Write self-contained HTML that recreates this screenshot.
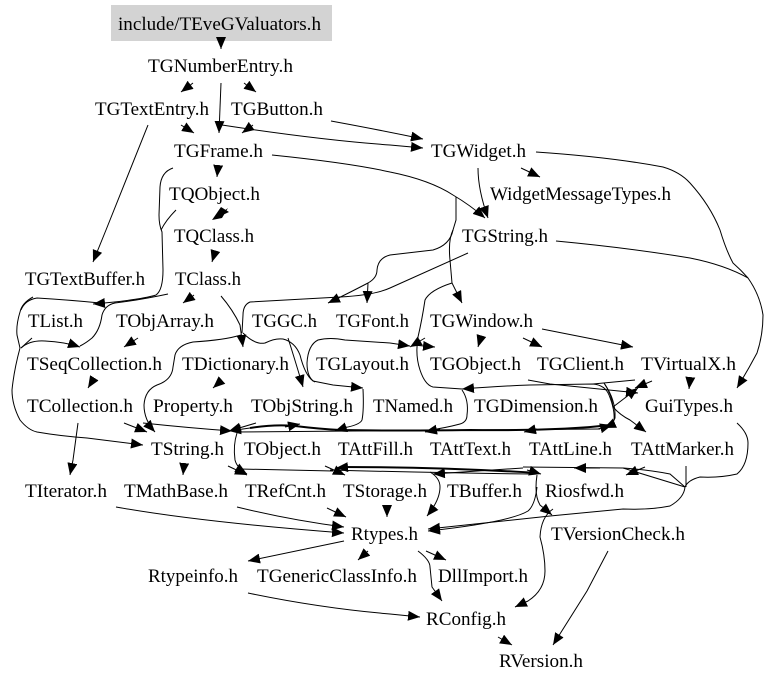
<!DOCTYPE html>
<html><head><meta charset="utf-8"><style>
html,body{margin:0;padding:0;background:#fff}
svg{display:block}
text{font-family:"Liberation Serif",serif;font-size:18.67px;fill:#000}
.e path{fill:none;stroke:#000;stroke-width:1}
.h path{marker-end:url(#a)}
.b path{stroke-width:2}
</style></head><body>
<svg width="779" height="684" viewBox="0 0 779 684" xmlns="http://www.w3.org/2000/svg">
<defs><marker id="a" markerUnits="userSpaceOnUse" markerWidth="14" markerHeight="12" refX="12" refY="5" orient="auto"><path d="M0 0L12 5L0 10z" fill="#000"/></marker></defs>
<rect x="111" y="5" width="221" height="36" fill="#d3d3d3"/>
<path d="M228 208L212 220L222 218z M221 207L212 220L229 212z" fill="#000"/>
<g class="e h">
<path d="M221 41L221 49"/>
<path d="M193 83L181 92"/>
<path d="M244 83L256 92"/>
<path d="M221 83L219 133"/>
<path d="M181 125L194 133"/>
<path d="M253 125L242 133"/>
<path d="M148 125L106 230L93 262"/>
<path d="M331 121Q380 130 423 139"/>
<path d="M222 125Q320 140 390 145L423 148"/>
<path d="M272 155Q350 163 390 172Q430 180 453 195Q470 205 485 218"/>
<path d="M478 168Q478 190 488 218"/>
<path d="M521 168L540 177"/>
<path d="M536 152Q610 157 663 167Q680 172 690 183Q710 205 720 230Q726 250 733 263Q741 270 748 278Q760 295 763 315Q763 335 757 353Q748 370 737 388"/>
<path d="M218 167L217 177"/>
<path d="M215 252L212 262"/>
<path d="M173 168Q161 172 160 187L159 215Q159 225 162 232L163 270Q163 290 156 295Q140 300 93 304"/>
<path d="M194 295L183 303"/>
<path d="M221 296Q233 310 240 325L243 347"/>
<path d="M138 338L124 347"/>
<path d="M21 348Q30 340 45 341Q65 342 80 347"/>
<path d="M93 380L88 388"/>
<path d="M222 380L213 388"/>
<path d="M78 423L73 460L70 475"/>
<path d="M124 423L147 432"/>
<path d="M33 297Q22 303 20 312Q16 325 17 335L20 348Q14 370 12 390Q12 405 20 420Q28 430 37 432Q60 436 87 438L143 445"/>
<path d="M241 335Q225 340 193 342Q178 345 175 355L173 367Q172 380 157 385Q145 390 144 405Q144 420 155 432"/>
<path d="M243 333Q255 345 265 343Q275 338 283 339Q295 342 300 355Q305 375 313 381L333 385L363 388"/>
<path d="M288 338Q295 360 303 387"/>
<path d="M377 270Q377 278 368 283Q345 295 328 303"/>
<path d="M368 283L367 303"/>
<path d="M453 230Q448 240 450 260L452 283L462 303"/>
<path d="M390 343L410 346"/>
<path d="M413 345L435 347"/>
<path d="M425 338L410 347"/>
<path d="M481 337L478 347"/>
<path d="M523 338L542 347"/>
<path d="M542 329L633 347"/>
<path d="M690 380L689 389"/>
<path d="M530 385Q500 386 462 389"/>
<path d="M528 380L550 384L638 393"/>
<path d="M652 381L635 388"/>
<path d="M613 407L638 388"/>
<path d="M604 383Q612 395 613 407Q620 415 630 420L646 432"/>
<path d="M604 383Q616 400 615 418Q613 424 604 428"/>
<path d="M143 423Q190 428 232 431"/>
<path d="M256 423L229 431"/>
<path d="M250 428L229 431"/>
<path d="M285 427L300 424"/>
<path d="M347 427L335 431"/>
<path d="M440 429L425 432"/>
<path d="M537 429L524 432"/>
<path d="M598 429L612 425"/>
<path d="M184 465L183 475"/>
<path d="M228 466L247 475"/>
<path d="M237 433Q233 445 235 460Q237 468 247 474"/>
<path d="M350 467L336 468"/>
<path d="M325 466L345 475"/>
<path d="M527 470L541 474"/>
<path d="M523 468L433 474"/>
<path d="M600 468L574 468"/>
<path d="M645 467L626 475"/>
<path d="M116 507Q200 522 344 533"/>
<path d="M237 507Q290 520 344 527"/>
<path d="M327 508L346 517"/>
<path d="M387 507L387 517"/>
<path d="M430 472Q440 478 440 487Q440 500 427 516"/>
<path d="M537 487Q535 505 528 511Q510 522 428 531"/>
<path d="M737 423Q748 433 748 443Q748 465 737 474Q720 478 700 477Q688 480 685 487Q684 498 670 506Q650 510 623 509L550 516L428 529"/>
<path d="M537 475Q534 495 540 505L552 515"/>
<path d="M553 509Q541 517 540 537Q545 555 545 571Q545 590 528 601L515 607"/>
<path d="M608 551L587 591L553 645"/>
<path d="M498 637L512 645"/>
<path d="M426 551L446 560"/>
<path d="M418 551Q430 560 430 567L432 587L442 601"/>
<path d="M248 593Q320 608 390 614L420 617"/>
<path d="M344 541L248 561"/>
<path d="M368 551L358 560"/>
</g>
<g class="e">
<path d="M556 241Q630 248 690 258Q725 265 748 278"/>
<path d="M176 210Q166 220 161 230"/>
<path d="M168 294Q140 300 115 303Q105 305 102 315Q100 330 92 338Q86 343 80 346"/>
<path d="M21 310Q25 300 37 298Q70 300 100 303"/>
<path d="M32 338L21 348"/>
<path d="M468 253L390 288Q375 295 340 297L250 302Q243 305 243 315L242 333"/>
<path d="M390 343L345 340Q330 337 318 340Q308 345 307 363Q307 378 315 382"/>
<path d="M456 197L456 220L453 230Q450 245 433 250L390 255Q378 258 377 270"/>
<path d="M452 283Q430 290 425 300Q422 320 418 337Q415 355 420 370Q425 385 433 387L462 389"/>
<path d="M363 389Q364 410 362 420Q360 425 343 428"/>
<path d="M462 390Q469 400 467 415Q467 422 460 424Q445 428 430 430"/>
<path d="M530 385L593 384Q605 385 609 395Q615 410 614 420Q612 425 606 428"/>
<path d="M635 380L593 384"/>
<path d="M235 432L600 429"/>
<path d="M240 469Q280 470 333 471"/>
<path d="M523 467L623 468L685 487"/>
<path d="M623 468Q650 470 670 474L685 487"/>
<path d="M686 466L686 487"/>
<path d="M330 470Q440 473 533 474"/>
</g>
<g class="e b">
<path d="M250 428Q275 424 295 426Q320 429 340 430Q400 431 470 430Q560 431 610 425"/>
<path d="M340 467Q440 467 538 473"/>
</g>
<g>
<text x="118" y="30" textLength="203" lengthAdjust="spacingAndGlyphs">include/TEveGValuators.h</text>
<text x="148" y="72" textLength="145" lengthAdjust="spacingAndGlyphs">TGNumberEntry.h</text>
<text x="95" y="115" textLength="114" lengthAdjust="spacingAndGlyphs">TGTextEntry.h</text>
<text x="231" y="115" textLength="92" lengthAdjust="spacingAndGlyphs">TGButton.h</text>
<text x="174" y="157" textLength="89" lengthAdjust="spacingAndGlyphs">TGFrame.h</text>
<text x="431" y="157" textLength="95" lengthAdjust="spacingAndGlyphs">TGWidget.h</text>
<text x="169" y="200" textLength="91" lengthAdjust="spacingAndGlyphs">TQObject.h</text>
<text x="490" y="200" textLength="181" lengthAdjust="spacingAndGlyphs">WidgetMessageTypes.h</text>
<text x="174" y="242" textLength="80" lengthAdjust="spacingAndGlyphs">TQClass.h</text>
<text x="462" y="242" textLength="86" lengthAdjust="spacingAndGlyphs">TGString.h</text>
<text x="25" y="285" textLength="120" lengthAdjust="spacingAndGlyphs">TGTextBuffer.h</text>
<text x="175" y="285" textLength="66" lengthAdjust="spacingAndGlyphs">TClass.h</text>
<text x="28" y="327" textLength="55" lengthAdjust="spacingAndGlyphs">TList.h</text>
<text x="116" y="327" textLength="98" lengthAdjust="spacingAndGlyphs">TObjArray.h</text>
<text x="252" y="327" textLength="65" lengthAdjust="spacingAndGlyphs">TGGC.h</text>
<text x="336" y="327" textLength="73" lengthAdjust="spacingAndGlyphs">TGFont.h</text>
<text x="430" y="327" textLength="103" lengthAdjust="spacingAndGlyphs">TGWindow.h</text>
<text x="27" y="370" textLength="135" lengthAdjust="spacingAndGlyphs">TSeqCollection.h</text>
<text x="182" y="370" textLength="107" lengthAdjust="spacingAndGlyphs">TDictionary.h</text>
<text x="316" y="370" textLength="93" lengthAdjust="spacingAndGlyphs">TGLayout.h</text>
<text x="430" y="370" textLength="91" lengthAdjust="spacingAndGlyphs">TGObject.h</text>
<text x="537" y="370" textLength="87" lengthAdjust="spacingAndGlyphs">TGClient.h</text>
<text x="641" y="370" textLength="95" lengthAdjust="spacingAndGlyphs">TVirtualX.h</text>
<text x="27" y="412" textLength="106" lengthAdjust="spacingAndGlyphs">TCollection.h</text>
<text x="153" y="412" textLength="80" lengthAdjust="spacingAndGlyphs">Property.h</text>
<text x="251" y="412" textLength="102" lengthAdjust="spacingAndGlyphs">TObjString.h</text>
<text x="373" y="412" textLength="80" lengthAdjust="spacingAndGlyphs">TNamed.h</text>
<text x="474" y="412" textLength="124" lengthAdjust="spacingAndGlyphs">TGDimension.h</text>
<text x="645" y="412" textLength="88" lengthAdjust="spacingAndGlyphs">GuiTypes.h</text>
<text x="151" y="455" textLength="73" lengthAdjust="spacingAndGlyphs">TString.h</text>
<text x="244" y="455" textLength="77" lengthAdjust="spacingAndGlyphs">TObject.h</text>
<text x="338" y="455" textLength="75" lengthAdjust="spacingAndGlyphs">TAttFill.h</text>
<text x="430" y="455" textLength="81" lengthAdjust="spacingAndGlyphs">TAttText.h</text>
<text x="529" y="455" textLength="83" lengthAdjust="spacingAndGlyphs">TAttLine.h</text>
<text x="631" y="455" textLength="103" lengthAdjust="spacingAndGlyphs">TAttMarker.h</text>
<text x="25" y="497" textLength="82" lengthAdjust="spacingAndGlyphs">TIterator.h</text>
<text x="124" y="497" textLength="104" lengthAdjust="spacingAndGlyphs">TMathBase.h</text>
<text x="245" y="497" textLength="81" lengthAdjust="spacingAndGlyphs">TRefCnt.h</text>
<text x="343" y="497" textLength="84" lengthAdjust="spacingAndGlyphs">TStorage.h</text>
<text x="447" y="497" textLength="75" lengthAdjust="spacingAndGlyphs">TBuffer.h</text>
<text x="545" y="497" textLength="79" lengthAdjust="spacingAndGlyphs">Riosfwd.h</text>
<text x="351" y="540" textLength="67" lengthAdjust="spacingAndGlyphs">Rtypes.h</text>
<text x="551" y="540" textLength="134" lengthAdjust="spacingAndGlyphs">TVersionCheck.h</text>
<text x="148" y="582" textLength="90" lengthAdjust="spacingAndGlyphs">Rtypeinfo.h</text>
<text x="257" y="582" textLength="160" lengthAdjust="spacingAndGlyphs">TGenericClassInfo.h</text>
<text x="438" y="582" textLength="90" lengthAdjust="spacingAndGlyphs">DllImport.h</text>
<text x="426" y="625" textLength="80" lengthAdjust="spacingAndGlyphs">RConfig.h</text>
<text x="499" y="667" textLength="84" lengthAdjust="spacingAndGlyphs">RVersion.h</text>
</g>
</svg>
</body></html>
